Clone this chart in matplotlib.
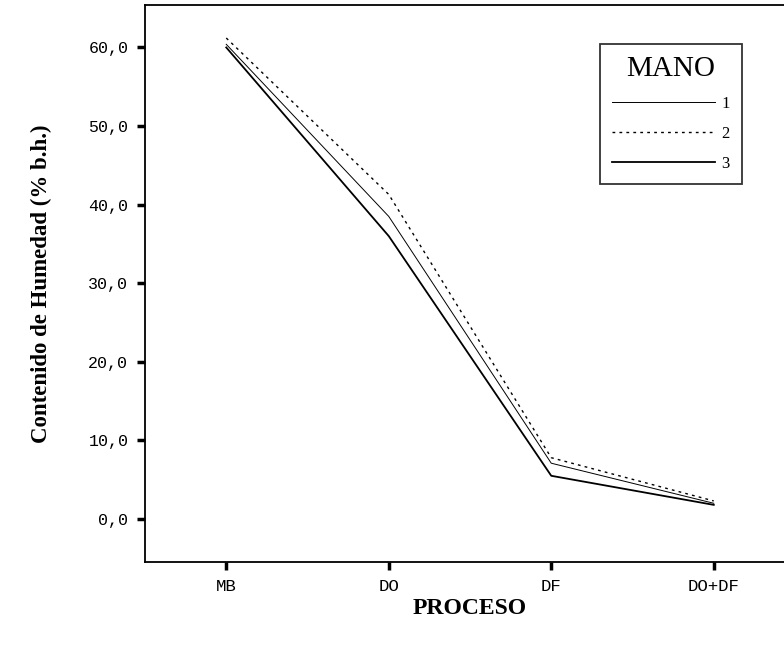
import numpy as np
import matplotlib.pyplot as plt

# datos
procesos = ['MB', 'DO', 'DF', 'DO+DF']
mano_1 = [60.4, 38.5, 7.1, 2.0]
mano_2 = [61.2, 41.3, 7.8, 2.3]
mano_3 = [60.0, 36.0, 5.5, 1.8]

fig = plt.figure(figsize=(7.84, 6.49), dpi=100)
fig.patch.set_facecolor('white')
W, H = 784, 649
ax = fig.add_axes([145 / W, (H - 562) / H, 650 / W, 557 / H])

x = np.arange(len(procesos))
ax.plot(x, mano_1, color='black', lw=0.7, label='1')
ax.plot(x, mano_2, color='black', lw=1.0, ls=(0, (2, 3)), label='2')
ax.plot(x, mano_3, color='black', lw=1.3, label='3')

ax.set_xlim(-0.5, 3.5)
ax.set_ylim(-5.47, 65.4)
ax.set_yticks(np.arange(0, 61, 10))
ax.set_yticklabels([f'{v:.1f}'.replace('.', ',') for v in np.arange(0, 61, 10)],
                   fontfamily='Liberation Mono', fontsize=12)
ax.set_xticks(x)
ax.set_xticklabels(procesos, fontfamily='Liberation Mono', fontsize=12.5)
ax.tick_params(axis='both', direction='out', length=6, width=2.5, color='black', pad=6)

for s in ax.spines.values():
    s.set_linewidth(1.3)

ax.set_xlabel('PROCESO', fontfamily='Liberation Serif', fontweight='bold', fontsize=17, labelpad=3)
ax.set_ylabel('Contenido de Humedad (% b.h.)', fontfamily='Liberation Serif',
              fontweight='bold', fontsize=16.5, labelpad=26)

leg = ax.legend(title='MANO', loc='upper left', bbox_to_anchor=((600 - 145) / 650, (562 - 44) / 557),
                borderaxespad=0, frameon=True, fancybox=False, edgecolor='black', handlelength=6.2,
                prop={'family': 'Liberation Serif', 'size': 12}, labelspacing=0.85,
                borderpad=0.7, handletextpad=0.4)
leg.get_frame().set_linewidth(1.3)
leg.get_title().set_fontfamily('Liberation Serif')
leg.get_title().set_fontsize(21)

fig.savefig('out.png', dpi=100)
